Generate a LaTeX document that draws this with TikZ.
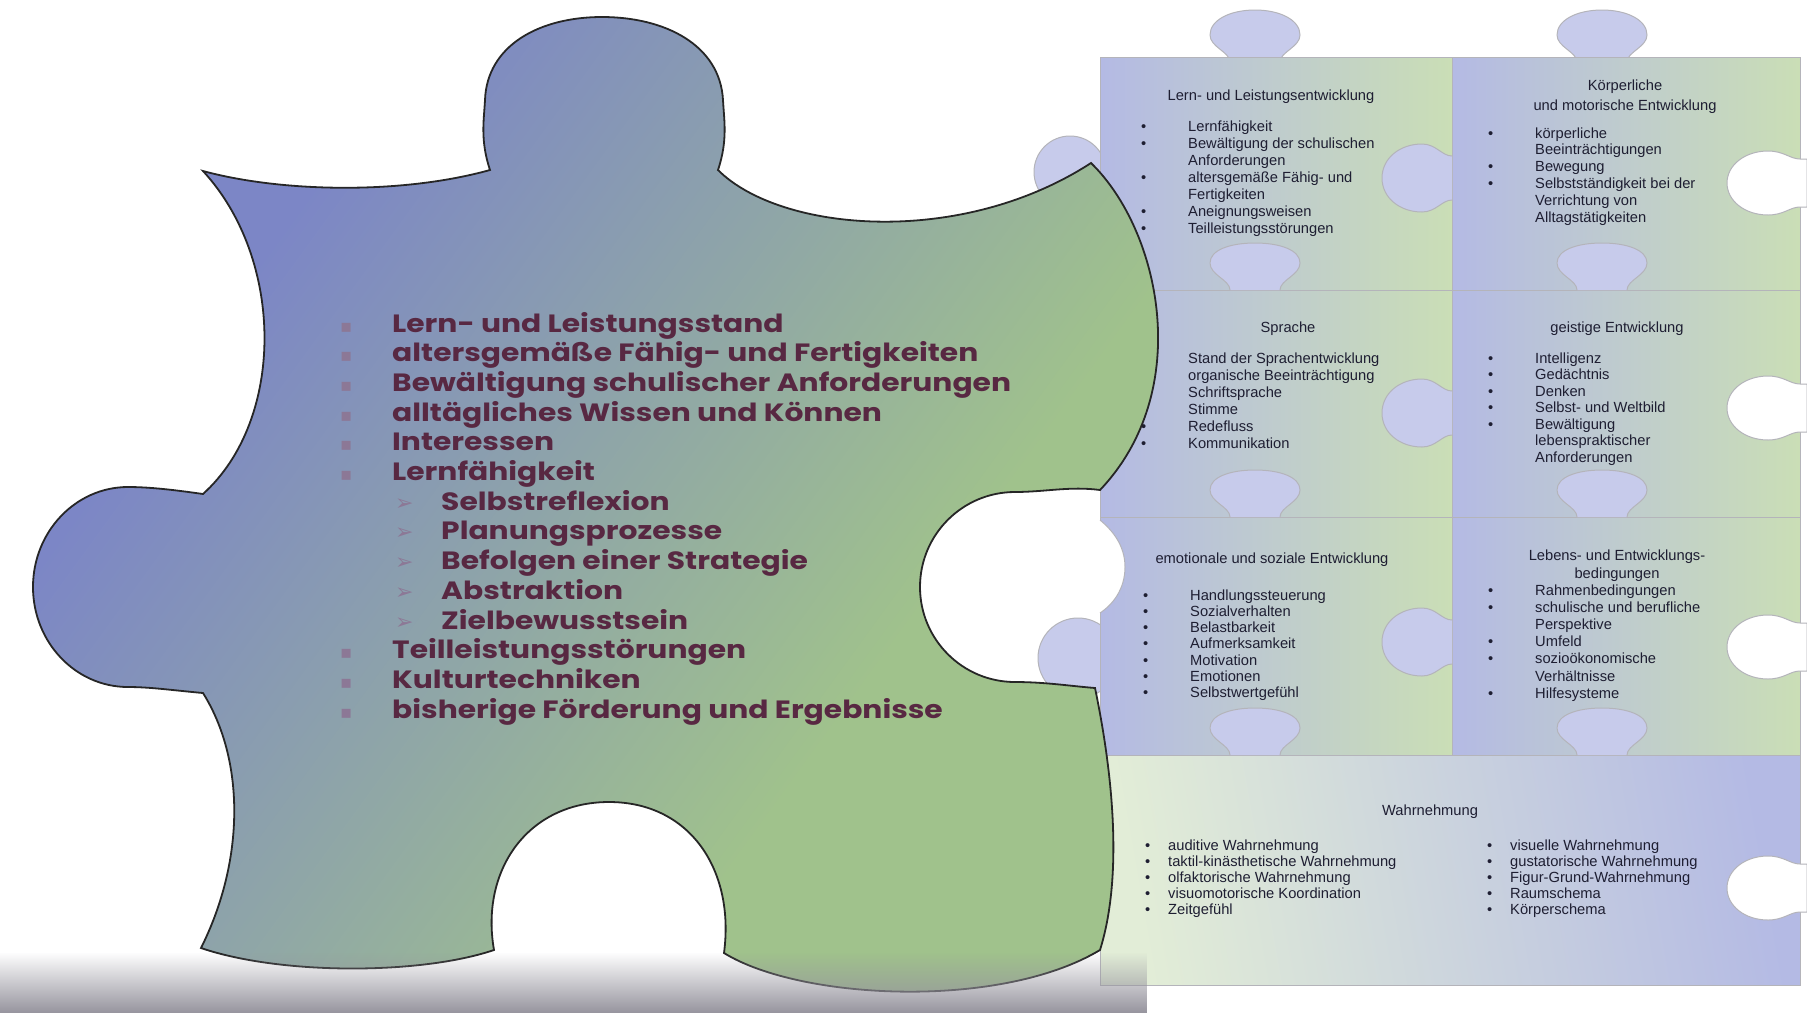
\documentclass[tikz,border=0pt]{standalone}
\usepackage{fontspec}
\usetikzlibrary{fadings}
\setmainfont{Liberation Sans}
\newfontfamily\mfont[FakeStretch=1.19]{Poppins}
\newfontfamily\cfont{Liberation Sans}
\newfontfamily\symf{DejaVu Sans}
\definecolor{mblue}{RGB}{124,134,198}
\definecolor{mgreen}{RGB}{160,194,140}
\definecolor{cblue}{RGB}{180,186,228}
\definecolor{cgreen}{RGB}{202,222,182}
\definecolor{mtext}{RGB}{88,40,66}
\definecolor{mbulc}{RGB}{140,120,150}
\definecolor{ctext}{RGB}{30,30,50}
\definecolor{floorc}{RGB}{150,148,158}
\definecolor{cline}{RGB}{180,180,186}
\pgfdeclarehorizontalshading{mainshade}{100bp}{color(0bp)=(mblue); color(30bp)=(mblue); color(64bp)=(mgreen); color(100bp)=(mgreen)}
\newcommand\mbul{\makebox[52pt][l]{\textcolor{mbulc}{\symf\fontsize{18}{18}\selectfont ▪}}}
\newcommand\marr{\makebox[46pt][l]{\textcolor{mbulc}{\symf\fontsize{22}{22}\selectfont ➢}}}
\newcommand\cb{\makebox[47pt][l]{•}}
\newcommand\cn{\makebox[47pt][l]{}}
\newcommand\wb{\makebox[23pt][l]{•}}
\begin{document}
\begin{tikzpicture}[x=1pt,y=-1pt,
  mline/.style={font=\mfont\bfseries\fontsize{25}{30}\selectfont, text=mtext, inner sep=0, anchor=base west},
  cl/.style={font=\cfont\fontsize{14.7}{17}\selectfont, text=ctext, inner sep=0, anchor=base west},
  chd/.style={font=\cfont\fontsize{14.7}{17}\selectfont, text=ctext, inner sep=0, anchor=base},
  knob/.style={fill=cblue!75!white, draw=cline, line width=1pt},
  notch/.style={fill=white, draw=cline, line width=1pt},
  pieceline/.style={draw=cline, line width=1pt},
]
\useasboundingbox (0,0) rectangle (1807,1013);
\fill[white] (0,0) rectangle (1807,1013);

% ---------- right cluster ----------
\foreach \k in {1255,1602}
  \draw[knob] (\k-25,62) .. controls (\k-25,52) and (\k-45,47) .. (\k-45,35)
     .. controls (\k-45,20) and (\k-25,10) .. (\k,10)
     .. controls (\k+25,10) and (\k+45,20) .. (\k+45,35)
     .. controls (\k+45,47) and (\k+25,52) .. (\k+25,62) -- cycle;
\draw[knob] (1070,172) circle[radius=36];
\draw[knob] (1078,658) circle[radius=40];
\foreach \xa/\ya/\xb/\yb in {1100/57/1452/290, 1452/57/1800/290, 1100/290/1452/517, 1452/290/1800/517, 1100/517/1452/755, 1452/517/1800/755}
  \shade[left color=cblue, right color=cgreen, pieceline] (\xa,\ya) rectangle (\xb,\yb);
\shade[left color=cgreen!55!white, right color=cblue, shading angle=100, pieceline] (1100,755) rectangle (1800,985);
\foreach \k in {1255,1602}
  \foreach \Y in {290,517,755}
    \draw[knob] (\k-25,\Y) .. controls (\k-25,\Y-10) and (\k-45,\Y-15) .. (\k-45,\Y-27)
       .. controls (\k-45,\Y-40) and (\k-25,\Y-47) .. (\k,\Y-47)
       .. controls (\k+25,\Y-47) and (\k+45,\Y-40) .. (\k+45,\Y-27)
       .. controls (\k+45,\Y-15) and (\k+25,\Y-10) .. (\k+25,\Y);
\foreach \V in {178,413,642}
  \draw[knob] (1452,\V-22) .. controls (1442,\V-22) and (1436,\V-34) .. (1422,\V-34)
     .. controls (1400,\V-34) and (1382,\V-20) .. (1382,\V)
     .. controls (1382,\V+20) and (1400,\V+34) .. (1422,\V+34)
     .. controls (1436,\V+34) and (1442,\V+22) .. (1452,\V+22);
\foreach \V in {183,408,647,888}
  \draw[notch] (1807,\V-24) -- (1800,\V-24) .. controls (1790,\V-24) and (1784,\V-32) .. (1768,\V-32)
     .. controls (1745,\V-32) and (1727,\V-18) .. (1727,\V)
     .. controls (1727,\V+18) and (1745,\V+32) .. (1768,\V+32)
     .. controls (1784,\V+32) and (1790,\V+24) .. (1800,\V+24) -- (1807,\V+24) -- cycle;
\fill[white] (1100,520) .. controls (1112,530) and (1125,545) .. (1125,567)
   .. controls (1125,590) and (1112,605) .. (1100,613) -- (1060,613) -- (1060,520) -- cycle;
\draw[cline, line width=1pt] (1100,520) .. controls (1112,530) and (1125,545) .. (1125,567)
   .. controls (1125,590) and (1112,605) .. (1100,613);

% cluster texts
\node[chd] (ha) at (1271,100) {Lern- und Leistungsentwicklung};
\foreach \t [count=\i] in {\cb Lernfähigkeit, \cb Bewältigung der schulischen, \cn Anforderungen, \cb altersgemäße Fähig- und, \cn Fertigkeiten, \cb Aneignungsweisen, \cb Teilleistungsstörungen}
  \node[cl] (a\i) at (1141,{131.7+16.9*(\i-1)}) {\t};
\node[chd] (hb1) at (1625,90) {Körperliche};
\node[chd] (hb2) at (1625,110) {und motorische Entwicklung};
\foreach \t [count=\i] in {\cb körperliche, \cn Beeinträchtigungen, \cb Bewegung, \cb Selbstständigkeit bei der, \cn Verrichtung von, \cn Alltagstätigkeiten}
  \node[cl] (b\i) at (1488,{138+16.8*(\i-1)}) {\t};
\node[chd] (hc) at (1288,332) {Sprache};
\foreach \t [count=\i] in {\cb Stand der Sprachentwicklung, \cb organische Beeinträchtigung, \cb Schriftsprache, \cb Stimme, \cb Redefluss, \cb Kommunikation}
  \node[cl] (c\i) at (1141,{363+17*(\i-1)}) {\t};
\node[chd] (hd) at (1617,332) {geistige Entwicklung};
\foreach \t [count=\i] in {\cb Intelligenz, \cb Gedächtnis, \cb Denken, \cb Selbst- und Weltbild, \cb Bewältigung, \cn lebenspraktischer, \cn Anforderungen}
  \node[cl] (d\i) at (1488,{363+16.5*(\i-1)}) {\t};
\node[chd] (he) at (1272,563) {emotionale und soziale Entwicklung};
\foreach \t [count=\i] in {\cb Handlungssteuerung, \cb Sozialverhalten, \cb Belastbarkeit, \cb Aufmerksamkeit, \cb Motivation, \cb Emotionen, \cb Selbstwertgefühl}
  \node[cl] (e\i) at (1143,{600+16.3*(\i-1)}) {\t};
\node[chd] (hf1) at (1617,560) {Lebens- und Entwicklungs-};
\node[chd] (hf2) at (1617,578) {bedingungen};
\foreach \t [count=\i] in {\cb Rahmenbedingungen, \cb schulische und berufliche, \cn Perspektive, \cb Umfeld, \cb sozioökonomische, \cn Verhältnisse, \cb Hilfesysteme}
  \node[cl] (f\i) at (1488,{595+17.2*(\i-1)}) {\t};
\node[chd] (hg) at (1430,815) {Wahrnehmung};
\foreach \t [count=\i] in {auditive Wahrnehmung, taktil-kinästhetische Wahrnehmung, olfaktorische Wahrnehmung, visuomotorische Koordination, Zeitgefühl}
  \node[cl] (g\i) at (1145,{850+16.2*(\i-1)}) {\wb\t};
\foreach \t [count=\i] in {visuelle Wahrnehmung, gustatorische Wahrnehmung, Figur-Grund-Wahrnehmung, Raumschema, Körperschema}
  \node[cl] (k\i) at (1487,{850+16.2*(\i-1)}) {\wb\t};

% ---------- main piece ----------
\path[draw=black!85, line width=1.8pt, shading=mainshade, shading angle=-36]
  (203,171) .. controls (280,192) and (400,195) .. (490,170)
  .. controls (480,140) and (484,120) .. (485,100)
  .. controls (487,45) and (540,17) .. (602,17)
  .. controls (665,17) and (720,45) .. (723,100)
  .. controls (724,120) and (728,140) .. (718,170)
  .. controls (780,232) and (960,248) .. (1091,163)
  .. controls (1160,230) and (1195,390) .. (1100,490)
  .. controls (1070,486) and (1045,492) .. (1015,492)
  arc[start angle=-90, end angle=-270, radius=95]
  .. controls (1045,682) and (1070,686) .. (1095,688)
  .. controls (1110,760) and (1125,870) .. (1100,950)
  .. controls (1000,1010) and (800,1000) .. (724,953)
  .. controls (735,870) and (690,802) .. (609,802)
  .. controls (528,802) and (480,870) .. (494,950)
  .. controls (420,975) and (280,975) .. (201,948)
  .. controls (245,860) and (245,760) .. (203,693)
  .. controls (170,690) and (150,687) .. (128,687)
  arc[start angle=90, end angle=270, x radius=95, y radius=100]
  .. controls (150,487) and (175,490) .. (203,494)
  .. controls (285,420) and (285,260) .. (203,171) -- cycle;

% floor shadow
\fill[floorc, path fading=north] (0,952) rectangle (1150,1013);

% main list
\foreach \t [count=\i] in {Lern- und Leistungsstand, altersgemäße Fähig- und Fertigkeiten, Bewältigung schulischer Anforderungen, alltägliches Wissen und Können, Interessen, Lernfähigkeit}
  \node[mline] (m\i) at (340,{332+29.7*(\i-1)}) {\mbul\t};
\foreach \t [count=\i] in {Selbstreflexion, Planungsprozesse, Befolgen einer Strategie, Abstraktion, Zielbewusstsein}
  \node[mline] (s\i) at (395,{510.2+29.7*(\i-1)}) {\marr\t};
\foreach \t [count=\i] in {Teilleistungsstörungen, Kulturtechniken, bisherige Förderung und Ergebnisse}
  \node[mline] (n\i) at (340,{658.7+29.7*(\i-1)}) {\mbul\t};
\end{tikzpicture}
\end{document}
